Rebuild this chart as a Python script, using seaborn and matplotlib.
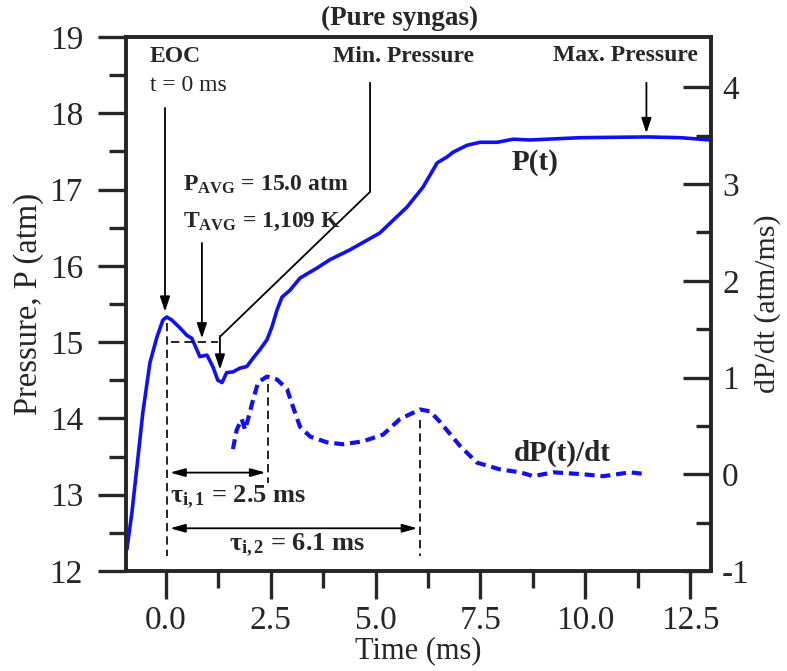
# Pressure trace and its derivative (pure syngas)
import numpy as np
import pandas as pd
import matplotlib
matplotlib.use("Agg")
import matplotlib.pyplot as plt
import seaborn as sns

# P(t) trace, left axis
t_p = [-0.93, -0.81, -0.69, -0.55, -0.38, -0.21, -0.07, 0.02, 0.14, 0.33, 0.50, 0.62,
       0.74, 0.81, 0.98, 1.12, 1.24, 1.34, 1.45, 1.60, 1.77, 1.93, 2.08, 2.24, 2.41,
       2.53, 2.65, 2.77, 2.96, 3.20, 3.60, 3.91, 4.39, 5.10, 5.75, 6.13, 6.47, 6.71,
       6.85, 7.18, 7.49, 7.90, 8.28, 8.69, 9.88, 11.48, 12.27, 12.98]
p = [12.28, 12.76, 13.36, 14.07, 14.73, 15.07, 15.29, 15.33, 15.29, 15.19, 15.09, 15.05,
     14.90, 14.81, 14.83, 14.68, 14.50, 14.47, 14.60, 14.61, 14.66, 14.68, 14.79, 14.90, 15.03,
     15.20, 15.42, 15.59, 15.68, 15.84, 15.97, 16.08, 16.21, 16.43, 16.77, 17.03, 17.35, 17.43,
     17.49, 17.58, 17.62, 17.62, 17.66, 17.65, 17.68, 17.69, 17.68, 17.65]

# dP/dt trace, right axis
t_d = [1.60, 1.69, 1.81, 1.89, 1.96, 2.08, 2.20, 2.41, 2.65, 2.89, 3.03, 3.20, 3.44,
       3.84, 4.22, 4.70, 5.18, 5.58, 6.06, 6.30, 6.54, 7.02, 7.42, 7.97, 8.45, 8.76,
       9.24, 9.95, 10.43, 11.07, 11.48]
dpdt = [0.26, 0.46, 0.57, 0.46, 0.57, 0.77, 0.95, 1.01, 0.98, 0.88, 0.70, 0.49, 0.39,
        0.33, 0.31, 0.34, 0.41, 0.57, 0.67, 0.65, 0.54, 0.29, 0.12, 0.05, 0.02, -0.02,
        0.02, 0.00, -0.02, 0.02, 0.00]

x_ticks = [0.0, 2.5, 5.0, 7.5, 10.0, 12.5]

df_p = pd.DataFrame({"t": t_p, "P": p})
df_d = pd.DataFrame({"t": t_d, "dPdt": dpdt})

sns.set_style("ticks")
plt.rcParams["font.family"] = ["Liberation Serif", "DejaVu Serif"]
plt.rcParams["mathtext.fontset"] = "custom"
plt.rcParams["mathtext.rm"] = "Liberation Serif"
plt.rcParams["mathtext.bf"] = "Liberation Serif:bold"
plt.rcParams["mathtext.it"] = "Liberation Serif:italic"
plt.rcParams["axes.unicode_minus"] = False

fig = plt.figure(figsize=(7.87, 6.71), dpi=100)
ax = fig.add_axes([126 / 787, 1 - 571 / 671, 585 / 787, 534 / 671])
ax2 = ax.twinx()

azul = "#1010f0"
sns.lineplot(data=df_p, x="t", y="P", ax=ax, color=azul, lw=2.6)
sns.lineplot(data=df_d, x="t", y="dPdt", ax=ax2, color=azul, lw=3, linestyle=(0, (2.4, 1.4)))

ax.set_xlim(-0.95, 13.0)
ax.set_ylim(12, 19)
ax2.set_ylim(-1, 4.52)

ax.set_xticks(x_ticks)
ax.set_xticklabels([f"{v:.1f}" for v in x_ticks])
ax.set_xticks(np.arange(1.25, 13, 2.5), minor=True)
ax.set_yticks(range(12, 20))
ax.set_yticks(np.arange(12.5, 19, 1), minor=True)
ax2.set_yticks(range(-1, 5))
ax2.set_yticks(np.arange(-0.5, 4.5, 1), minor=True)

for s in ax.spines.values():
    s.set_linewidth(2.6)
for s in ax2.spines.values():
    s.set_linewidth(2.6)

ax.tick_params(axis="both", which="major", direction="out", length=20, width=2.4,
               labelsize=24, pad=11)
ax.tick_params(axis="both", which="minor", direction="out", length=12, width=2.4)
ax.tick_params(axis="x", which="major", pad=5)
ax2.tick_params(axis="y", which="major", direction="in", length=20, width=2.4,
                labelsize=24, pad=8)
ax2.tick_params(axis="y", which="minor", direction="in", length=11, width=2.4)

ax.set_xlabel("Time (ms)", fontsize=22, labelpad=0)
ax.set_ylabel("Pressure, P (atm)", fontsize=23.5, labelpad=4)
ax2.set_ylabel("dP/dt (atm/ms)", fontsize=21.5, labelpad=3)

fig.text(400 / 787, 1 - 18 / 671, "(Pure syngas)", ha="center", va="center",
         fontsize=19.5, fontweight="bold")

# annotations
flecha = dict(arrowstyle="-|>,head_length=0.9,head_width=0.3", color="black", lw=1.3,
              shrinkA=0, shrinkB=0)
doble = dict(arrowstyle="<|-|>,head_length=0.9,head_width=0.25", color="black", lw=1.3,
             shrinkA=0, shrinkB=0)
fs = 17

ax.text(-0.38, 18.74, "EOC", fontsize=fs, fontweight="bold", va="center")
ax.text(-0.38, 18.37, "t = 0 ms", fontsize=fs, va="center", color="#222222")
ax.annotate("", xy=(-0.02, 15.40), xytext=(-0.02, 18.07), arrowprops=flecha)

ax.text(5.66, 18.74, "Min. Pressure", fontsize=fs, fontweight="bold", ha="center", va="center")
ax.plot([4.87, 4.87, 1.29], [18.40, 16.97, 15.07], color="black", lw=1.3)
ax.annotate("", xy=(1.29, 14.64), xytext=(1.29, 15.08), arrowprops=flecha)

ax.text(10.95, 18.76, "Max. Pressure", fontsize=fs, fontweight="bold", ha="center", va="center")
ax.annotate("", xy=(11.46, 17.74), xytext=(11.46, 18.40), arrowprops=flecha)

ax.text(0.41, 17.06, r"$\mathbf{P_{AVG}}$ = 15.0 atm", fontsize=fs, fontweight="bold", va="center")
ax.text(0.41, 16.58, r"$\mathbf{T_{AVG}}$ = 1,109 K", fontsize=fs, fontweight="bold", va="center")
ax.annotate("", xy=(0.86, 15.05), xytext=(0.86, 16.30), arrowprops=flecha)
ax.plot([0.12, 1.25], [15.0, 15.0], color="black", lw=1.2, ls=(0, (5, 3)))

ax.text(8.81, 17.36, "P(t)", fontsize=21, fontweight="bold", ha="center", va="center")
ax.text(9.45, 13.54, "dP(t)/dt", fontsize=21, fontweight="bold", ha="center", va="center")

ax.plot([0.02, 0.02], [15.25, 12.2], color="black", lw=1.2, ls=(0, (5, 3)))
ax.plot([2.43, 2.43], [14.45, 13.15], color="black", lw=1.2, ls=(0, (5, 3)))
ax.plot([6.06, 6.06], [13.98, 12.2], color="black", lw=1.2, ls=(0, (5, 3)))

ax.annotate("", xy=(2.38, 13.29), xytext=(0.1, 13.29), arrowprops=doble)
ax.annotate("", xy=(6.0, 12.56), xytext=(0.1, 12.56), arrowprops=doble)
ax.text(0.1, 12.97, r"$\mathbf{τ_{i,1}}$ = 2.5 ms", fontsize=19, fontweight="bold", va="center")
ax.text(3.12, 12.33, r"$\mathbf{τ_{i,2}}$ = 6.1 ms", fontsize=19, fontweight="bold",
        ha="center", va="center")

fig.savefig("out.png", dpi=100)
